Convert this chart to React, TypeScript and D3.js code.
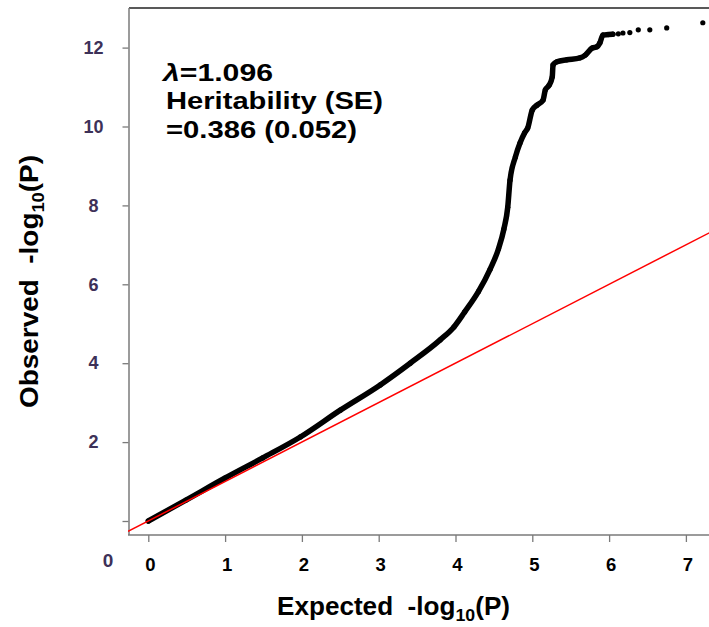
import { useEffect, useRef } from 'react'
import * as d3 from 'd3'

// QQ plot values
const expected = [
  0, 0.49, 1.0, 1.49, 1.98, 2.5, 3.02, 3.41, 3.8, 3.98, 4.12, 4.3, 4.45, 4.56,
  4.63, 4.68, 4.71, 4.78, 4.84, 4.9, 4.94, 5.0, 5.06, 5.14, 5.17, 5.22, 5.26,
  5.27, 5.32, 5.45, 5.62, 5.69, 5.78, 5.84, 5.88, 5.92, 5.99, 6.05,
]
const observed = [
  0, 0.53, 1.09, 1.6, 2.13, 2.81, 3.45, 4.0, 4.59, 4.92, 5.3, 5.82, 6.38, 6.9,
  7.4, 7.95, 8.64, 9.23, 9.58, 9.84, 9.96, 10.42, 10.54, 10.67, 10.93, 11.05,
  11.26, 11.56, 11.64, 11.69, 11.74, 11.81, 11.99, 12.02, 12.12, 12.32, 12.33,
  12.34,
]
const tailExpected = [6.12, 6.18, 6.27, 6.38, 6.53, 6.75, 7.22]
const tailObserved = [12.35, 12.37, 12.38, 12.45, 12.45, 12.5, 12.63]

const xTicks = [0, 1, 2, 3, 4, 5, 6, 7]
const yTicks = [0, 2, 4, 6, 8, 10, 12]
const annotation = ['=1.096', 'Heritability (SE)', '=0.386 (0.052)']

const width = 709
const height = 627
const frame = { left: 129, top: 8, bottom: 535 }
const font = 'Liberation Sans, Arial, sans-serif'
const tickColor = '#3d3158'

const App = () => {
  const xAxisRef = useRef<SVGGElement>(null)
  const yAxisRef = useRef<SVGGElement>(null)

  const xScale = d3.scaleLinear().domain([0, 7]).range([148.3, 148.3 + 7 * 76.8])
  const yScale = d3.scaleLinear().domain([0, 12]).range([521, 521 - 12 * 39.45])

  const points = expected.map((e, i) => [e, observed[i]] as [number, number])
  const tail = tailExpected.map((e, i) => [e, tailObserved[i]] as [number, number])

  const line = d3
    .line<[number, number]>()
    .x(d => xScale(d[0]))
    .y(d => yScale(d[1]))
    .curve(d3.curveMonotoneX)

  // y = x reference line across the plot region
  const x0 = xScale.invert(frame.left - 1)
  const x1 = xScale.invert(width + 10)

  useEffect(() => {
    const xAxis = d3
      .axisBottom(xScale)
      .tickValues(xTicks)
      .tickSize(7)
      .tickFormat(d => String(d))
    const yAxis = d3
      .axisLeft(yScale)
      .tickValues(yTicks)
      .tickSize(6)
      .tickFormat(d => (d === 0 ? '' : String(d)))

    if (xAxisRef.current) {
      const g = d3.select(xAxisRef.current).call(xAxis)
      g.select('.domain').remove()
      g.selectAll('line').attr('stroke', '#7a7a7a').attr('stroke-width', 1.3)
      g.selectAll('text')
        .attr('y', 36)
        .attr('dy', 0)
        .attr('dx', 1.5)
        .attr('fill', '#000')
        .style('font', `bold 18.5px ${font}`)
    }
    if (yAxisRef.current) {
      const g = d3.select(yAxisRef.current).call(yAxis)
      g.select('.domain').remove()
      g.selectAll('line').attr('stroke', '#7a7a7a').attr('stroke-width', 1.3)
      g.selectAll('text')
        .attr('x', -35)
        .attr('text-anchor', 'middle')
        .attr('fill', tickColor)
        .style('font', `bold 18px ${font}`)
    }
  }, [])

  return (
    <svg
      width={width}
      height={height}
      style={{ position: 'absolute', left: 0, top: 0, background: '#fff' }}
    >
      <defs>
        <clipPath id="plot">
          <rect x={frame.left - 1} y={frame.top} width={width} height={frame.bottom - frame.top} />
        </clipPath>
      </defs>

      {/* frame */}
      <line x1={frame.left} x2={width} y1={frame.top} y2={frame.top} stroke="#222" strokeWidth={1.6} />
      <line x1={frame.left} x2={frame.left} y1={frame.top} y2={frame.bottom} stroke="#7a7a7a" strokeWidth={1.5} />
      <line x1={frame.left - 1} x2={width} y1={frame.bottom} y2={frame.bottom} stroke="#7a7a7a" strokeWidth={1.5} />

      <g ref={xAxisRef} transform={`translate(0, ${frame.bottom})`} />
      <g ref={yAxisRef} transform={`translate(${frame.left - 0.5}, 0)`} />
      <text x={108} y={567} textAnchor="middle" fill={tickColor} style={{ font: `bold 19px ${font}` }}>
        0
      </text>

      <g clipPath="url(#plot)">
        <path
          d={line(points) ?? ''}
          fill="none"
          stroke="#000"
          strokeWidth={5.5}
          strokeLinecap="round"
          strokeLinejoin="round"
        />
        {points.concat(tail).map((p, i) => (
          <circle key={i} cx={xScale(p[0])} cy={yScale(p[1])} r={2.6} fill="#000" />
        ))}
        <line
          x1={xScale(x0)}
          y1={yScale(x0)}
          x2={xScale(x1)}
          y2={yScale(x1)}
          stroke="#ff0000"
          strokeWidth={1.5}
        />
      </g>

      {/* annotation */}
      <g style={{ font: `bold 24.5px ${font}` }} fill="#000">
        <text x={163} y={81} textLength={110} lengthAdjust="spacingAndGlyphs">
          <tspan fontStyle="italic">λ</tspan>
          {annotation[0]}
        </text>
        <text x={166} y={109} textLength={217} lengthAdjust="spacingAndGlyphs">
          {annotation[1]}
        </text>
        <text x={166} y={138} textLength={191} lengthAdjust="spacingAndGlyphs">
          {annotation[2]}
        </text>
      </g>

      {/* axis titles */}
      <text
        x={277}
        y={615}
        style={{ font: `bold 25px ${font}`, whiteSpace: 'pre' }}
        textLength={233}
        lengthAdjust="spacingAndGlyphs"
      >
        {'Expected  -log'}
        <tspan fontSize={17} dy={6}>10</tspan>
        <tspan dy={-6}>(P)</tspan>
      </text>
      <text
        transform="translate(38, 408) rotate(-90)"
        x={0}
        y={0}
        style={{ font: `bold 26px ${font}`, whiteSpace: 'pre' }}
        textLength={253}
        lengthAdjust="spacingAndGlyphs"
      >
        {'Observed  -log'}
        <tspan fontSize={17} dy={6}>10</tspan>
        <tspan dy={-6}>(P)</tspan>
      </text>
    </svg>
  )
}

export default App
